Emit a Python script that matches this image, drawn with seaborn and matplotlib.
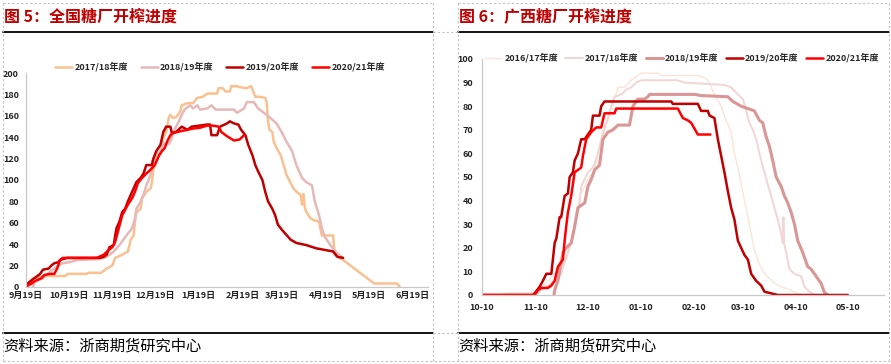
import matplotlib
matplotlib.use("Agg")
import matplotlib.pyplot as plt
import seaborn as sns
from matplotlib.lines import Line2D

# ---- data: (days since season start, value) ----
# national: day 0 = 9月19日
nat_x_ticks = [0, 30, 61, 91, 122, 153, 181, 212, 242, 273]
nat_x_labels = ["9月19日", "10月19日", "11月19日", "12月19日", "1月19日", "2月19日",
                "3月19日", "4月19日", "5月19日", "6月19日"]
nat_1718 = [(0, 0), (5, 8), (12, 10), (28, 10), (29, 12), (43, 12), (44, 13), (53, 13), (55, 15),
            (57, 17), (61, 20), (63, 27), (68, 30), (72, 33), (74, 44), (76, 48), (77, 61), (78, 70),
            (81, 73), (82, 83), (85, 89), (88, 92), (89, 98), (90, 111), (92, 120), (95, 127),
            (97, 139), (99, 145), (101, 159), (102, 161), (104, 158), (106, 159), (109, 164),
            (110, 170), (114, 172), (118, 172), (121, 177), (125, 178), (128, 181), (135, 181),
            (136, 186), (139, 186), (141, 183), (144, 183), (145, 188), (149, 188), (151, 187),
            (156, 186), (159, 188), (162, 178), (165, 178), (169, 177), (170, 173), (171, 155),
            (172, 147), (174, 145), (175, 136), (177, 130), (180, 123), (182, 114), (184, 105),
            (187, 97), (189, 92), (191, 89), (194, 86), (195, 77), (196, 87), (197, 74), (198, 70),
            (201, 64), (204, 62), (207, 61), (209, 48), (217, 48), (218, 30), (224, 25), (246, 3),
            (262, 3), (264, 0)]
nat_1819 = [(5, 0), (6, 5), (12, 8), (17, 14), (22, 19), (26, 22), (31, 23), (36, 25), (52, 26),
            (57, 28), (62, 33), (66, 39), (71, 48), (75, 55), (77, 64), (78, 73), (81, 80), (83, 86),
            (85, 95), (88, 105), (89, 117), (91, 123), (95, 127), (97, 134), (101, 134), (103, 139),
            (104, 145), (108, 155), (110, 161), (112, 166), (116, 170), (118, 167), (121, 170),
            (123, 166), (128, 167), (131, 170), (134, 166), (147, 166), (149, 163), (154, 167),
            (156, 173), (161, 173), (164, 167), (168, 163), (172, 159), (177, 153), (181, 144),
            (184, 136), (188, 127), (191, 114), (195, 102), (198, 98), (202, 95), (204, 80),
            (207, 67), (209, 55), (211, 47), (215, 39), (220, 31), (224, 27)]
nat_1920 = [(0, 2), (4, 6), (7, 9), (10, 12), (12, 16), (16, 17), (18, 20), (20, 22), (23, 23),
            (24, 25), (29, 27), (52, 27), (55, 28), (57, 30), (59, 37), (62, 39), (63, 48), (64, 55),
            (66, 61), (68, 70), (70, 73), (72, 80), (74, 86), (76, 92), (78, 98), (81, 102),
            (83, 106), (85, 114), (89, 114), (90, 120), (92, 127), (95, 133), (97, 145), (99, 150),
            (102, 150), (103, 144), (106, 145), (110, 150), (114, 147), (117, 150), (128, 152),
            (130, 152), (131, 142), (135, 142), (137, 150), (142, 153), (144, 155), (147, 153),
            (150, 152), (152, 147), (155, 142), (157, 133), (160, 123), (162, 114), (164, 108),
            (167, 100), (169, 89), (171, 80), (174, 73), (176, 67), (178, 58), (181, 53), (183, 50),
            (187, 44), (191, 41), (198, 39), (205, 36), (213, 34), (217, 33), (220, 28), (224, 27)]
nat_2021 = [(0, 0), (4, 3), (6, 5), (11, 8), (13, 11), (17, 12), (20, 12), (22, 17), (24, 25),
            (26, 27), (50, 27), (55, 30), (58, 34), (61, 37), (63, 42), (65, 52), (68, 67), (70, 72),
            (72, 77), (75, 83), (77, 89), (79, 97), (82, 102), (85, 106), (89, 111), (91, 114),
            (94, 123), (96, 127), (98, 130), (100, 137), (102, 142), (104, 144), (110, 146),
            (114, 147), (117, 148), (123, 149), (128, 151), (132, 151), (136, 150), (138, 145),
            (142, 141), (147, 137), (151, 138), (154, 142)]

# guangxi: day 0 = 10-10
gx_x_ticks = [0, 31, 61, 92, 123, 151, 182, 212]
gx_x_labels = ["10-10", "11-10", "12-10", "01-10", "02-10", "03-10", "04-10", "05-10"]
gx_1617 = [(10, 0), (17, 1), (29.5, 1), (34.4, 3), (38.2, 6), (44, 10), (46.9, 13), (49.8, 18),
           (52.7, 25), (54.6, 32), (56.6, 42), (59.5, 46), (61.4, 49), (64.3, 52), (66.2, 56),
           (67.2, 61), (69.1, 64), (71, 70), (73, 74), (74.9, 78), (76.8, 83), (78.8, 88),
           (82.6, 88), (86.5, 91), (92.3, 94), (101.9, 94), (103.9, 93), (125.1, 93), (129, 92),
           (130.9, 91), (132.8, 88), (134.7, 85), (138.6, 80), (141.5, 74), (144.4, 69),
           (146.3, 60), (148.3, 54), (150.2, 47), (152.1, 40), (154.1, 33), (156, 26), (157.9, 19),
           (160.8, 13), (163.7, 9), (166.6, 7), (169.5, 5), (173.4, 3.5), (179.2, 2), (183, 0.5),
           (184.9, 0)]
gx_1718 = [(30.5, 0), (36.3, 3), (42.1, 6), (45.9, 9), (49.8, 18), (51.7, 23), (54.6, 32),
           (56.6, 39), (57.5, 46), (61.4, 52), (64.3, 54), (67.2, 60), (69.1, 66), (71, 71),
           (73, 75), (74.9, 80), (76.8, 84), (80.7, 85), (83.6, 87), (86.5, 88), (89.4, 90),
           (92.3, 91), (113.5, 91), (117.4, 90), (140.5, 89), (144.4, 88), (148.3, 85), (151.2, 83),
           (153.1, 78), (155, 73), (157, 70), (158.9, 66), (161.8, 57), (163.7, 52), (165.6, 47),
           (167.6, 42), (169.5, 37), (171.4, 32), (173.4, 26), (174.3, 22), (174.7, 33),
           (175.1, 22), (176.3, 18), (178.2, 11), (181.1, 9), (184.9, 8), (186.9, 3.5),
           (189.8, 1.4), (192.7, 0)]
gx_1819 = [(41.7, 0), (42.1, 2), (44, 6), (46.9, 18), (48.8, 20), (51.7, 22), (53.7, 29),
           (55.6, 37), (57.5, 38), (59.5, 39), (61.4, 46), (63.3, 49), (65.3, 53), (68.1, 55),
           (70.1, 66), (73, 69), (75.9, 70), (78.8, 72), (85.5, 72), (87.5, 80), (90.3, 83),
           (94.2, 83), (96.1, 84), (97.1, 85), (123.2, 85), (127, 84.5), (142.5, 84), (145.4, 82),
           (150.2, 80), (154.1, 79), (157.9, 78), (160.8, 74), (162.7, 73), (164.7, 67),
           (166.6, 63), (168.5, 57), (170.5, 50), (173.4, 46), (175.3, 42), (177.2, 39),
           (179.2, 35), (181.1, 30), (183, 23), (185.9, 18), (188.8, 12), (190.7, 11), (193.6, 8),
           (196.5, 5), (198.5, 1), (200.4, 0)]
gx_1920 = [(0, 0), (29.5, 0), (30.5, 0.7), (33.4, 3.5), (35.3, 6), (37.3, 9), (40.2, 9),
           (42.1, 22), (43.1, 24), (45, 33), (45.9, 33), (47.9, 42), (49.8, 43), (50.8, 50),
           (52.7, 52), (53.7, 57), (55.6, 60), (57.5, 66), (59.5, 66), (63.3, 70), (64.3, 76),
           (68.1, 76), (69.1, 80), (71, 82), (109.7, 82), (110.6, 81), (125.1, 81), (127, 78),
           (130.9, 78), (131.9, 76), (134.7, 75), (136.7, 66), (138.6, 59), (140.5, 52),
           (142.5, 44), (144.4, 37), (146.3, 32), (148.3, 23), (150.2, 20), (152.1, 17),
           (154.1, 15), (156, 9), (158.9, 6), (161.8, 4), (163.7, 1.4), (167.6, 0.7), (171.4, 0),
           (212, 0)]
gx_2021 = [(0, 0), (30.5, 0), (32.4, 2), (34.4, 3), (38.2, 3), (40.2, 4), (42.1, 6), (44, 12),
           (45, 13), (46.9, 15), (47.9, 23), (48.8, 29), (49.8, 35), (51.7, 42), (53.7, 52),
           (57.5, 54), (58.5, 59), (60.4, 66), (63.3, 69), (66.2, 71), (69.1, 71), (71, 77),
           (76.8, 77), (77.8, 79), (113.5, 79), (116.4, 75), (119.3, 74), (121.2, 73), (125.1, 68),
           (132.4, 68)]

nat_series = [("2017/18年度", nat_1718, "#FAC090", 1.8),
              ("2018/19年度", nat_1819, "#E6B9B8", 1.8),
              ("2019/20年度", nat_1920, "#C00000", 1.8),
              ("2020/21年度", nat_2021, "#FF0000", 1.8)]
gx_series = [("2016/17年度", gx_1617, "#FCE4D6", 1.0),
             ("2017/18年度", gx_1718, "#F2D5D4", 1.4),
             ("2018/19年度", gx_1819, "#D99694", 2.2),
             ("2019/20年度", gx_1920, "#C00000", 1.8),
             ("2020/21年度", gx_2021, "#FF0000", 1.8)]

sns.set_theme(style="white")
plt.rcParams['font.family'] = ['Noto Sans CJK SC', 'DejaVu Sans']

W, H = 891, 364
fig = plt.figure(figsize=(W / 100, H / 100), dpi=100)


def fx(px):
    return px / W


def fy(py):
    return 1 - py / H


def draw(ax, series, xticks, xlabels, xmax, ymax, ystep, ypad, xpad):
    for name, pts, color, lw in series:
        xs = [p[0] for p in pts]
        ys = [p[1] for p in pts]
        sns.lineplot(x=xs, y=ys, ax=ax, color=color, linewidth=lw, label=name,
                     estimator=None, sort=False)
    ax.set_xlim(0, xmax)
    ax.set_ylim(0, ymax)
    ax.set_xticks(xticks)
    ax.set_xticklabels(xlabels)
    ax.set_yticks(range(0, ymax + 1, ystep))
    ax.tick_params(length=0, labelsize=6.5, colors="#222222")
    ax.tick_params(axis="y", pad=ypad)
    ax.tick_params(axis="x", pad=xpad)
    for lab in ax.get_xticklabels() + ax.get_yticklabels():
        lab.set_fontweight("bold")
    for s in ["top", "right"]:
        ax.spines[s].set_visible(False)
    for s in ["left", "bottom"]:
        ax.spines[s].set_color("#C8C8C8")
        ax.spines[s].set_linewidth(0.9)
    ax.set_xlabel("")
    ax.set_ylabel("")
    ax.grid(False)


ax1 = fig.add_axes([fx(26), fy(286.7), fx(402), 213.4 / H])
draw(ax1, nat_series, nat_x_ticks, nat_x_labels, 284, 200, 20, 5, 3)
ax1.legend(ncol=4, loc="center", bbox_to_anchor=(fx(220), fy(67)), bbox_transform=fig.transFigure,
           frameon=False, prop={"size": 6.5, "weight": "bold"}, handlelength=1.9,
           handletextpad=0.25, columnspacing=1.4, borderpad=0)

ax2 = fig.add_axes([fx(482), fy(295), fx(402), 236 / H])
draw(ax2, gx_series, gx_x_ticks, gx_x_labels, 233, 100, 10, 6.5, 6)
ax2.legend(ncol=5, loc="center", bbox_to_anchor=(fx(682), fy(58)), bbox_transform=fig.transFigure,
           frameon=False, prop={"size": 6.5, "weight": "bold"}, handlelength=1.9,
           handletextpad=0.25, columnspacing=0.8, borderpad=0)

# titles and source
fig.text(fx(4), fy(17), "图 5：全国糖厂开榨进度", color="#C00000", fontsize=11.5,
         fontweight="bold", va="center", ha="left")
fig.text(fx(459), fy(17), "图 6：广西糖厂开榨进度", color="#C00000", fontsize=11.5,
         fontweight="bold", va="center", ha="left")
fig.text(fx(3), fy(346), "资料来源：浙商期货研究中心", color="black", fontsize=11,
         va="center", ha="left")
fig.text(fx(458), fy(346), "资料来源：浙商期货研究中心", color="black", fontsize=11,
         va="center", ha="left")

# solid rules
for x0, x1 in [(3, 432.5), (457.5, 889)]:
    for yy in [32.3, 333]:
        fig.add_artist(Line2D([fx(x0), fx(x1)], [fy(yy), fy(yy)], color="black", lw=1.3))

# dashed table borders
dash = dict(color="#C0C0C0", lw=0.8, linestyle=(0, (2, 2)))
for xx in [3, 432.5, 457.5, 888.5]:
    fig.add_artist(Line2D([fx(xx), fx(xx)], [fy(3), fy(361)], **dash))
for x0, x1 in [(3, 432.5), (457.5, 888.5)]:
    fig.add_artist(Line2D([fx(x0), fx(x1)], [fy(3), fy(3)], **dash))
fig.add_artist(Line2D([fx(3), fx(888.5)], [fy(361), fy(361)], **dash))
for yy in [32.3, 333]:
    fig.add_artist(Line2D([fx(432.5), fx(457.5)], [fy(yy), fy(yy)], **dash))

fig.savefig("out.png", dpi=100)
